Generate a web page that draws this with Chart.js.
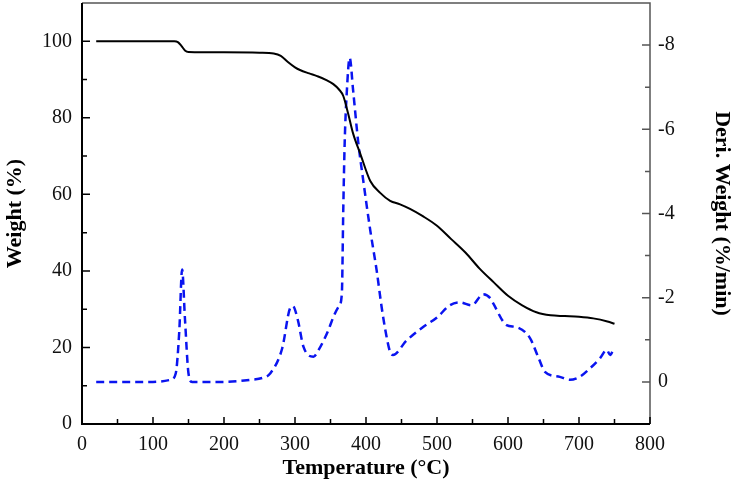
<!DOCTYPE html>
<html>
<head>
<meta charset="utf-8">
<script src="https://cdn.jsdelivr.net/npm/chart.js@4/dist/chart.umd.min.js"></script>
<style>
  html, body { margin: 0; padding: 0; background: #fff; }
  #wrap { width: 735px; height: 485px; }
</style>
</head>
<body>
<div id="wrap"><canvas id="tga"></canvas></div>
<script>
// TG curve (weight %, left axis)
const tgTemp = [20, 130, 135, 140, 145, 150, 200, 250, 270, 280, 290, 300, 307, 320, 331, 345, 354, 362, 368, 375, 382, 392, 406, 420, 434, 448, 462, 480, 500, 520, 540, 560, 580, 600, 620, 640, 660, 680, 700, 720, 740, 750];
const tgWeight = [100, 100, 99.8, 98.8, 97.6, 97.2, 97.1, 97.0, 96.8, 96.2, 94.6, 93.2, 92.5, 91.6, 90.9, 89.8, 88.8, 87.4, 85.7, 81, 75.8, 70.6, 63.5, 60.4, 58.3, 57.4, 56.2, 54.3, 51.8, 48.3, 44.8, 40.6, 37, 33.5, 31, 29.2, 28.4, 28.2, 28.0, 27.6, 26.8, 26.2];

// DTG curve (%/min, right axis, reversed)
const dtgTemp = [20, 60, 100, 125, 132, 137, 141, 145, 150, 155, 200, 237, 255, 265, 282, 293, 297, 304, 312, 326, 333, 347, 354, 362, 366, 368, 370, 373, 377, 382, 389, 396, 406, 415, 422, 428, 434, 438, 457, 480, 500, 518, 532, 549, 565, 575, 579, 598, 612, 631, 643, 652, 673, 687, 701, 716, 730, 739, 744, 748];
const dtgRate = [0, 0, 0, -0.05, -0.2, -1.2, -2.67, -1.5, -0.2, 0, 0, -0.05, -0.1, -0.2, -0.8, -1.75, -1.8, -1.47, -0.83, -0.6, -0.75, -1.23, -1.54, -1.8, -2.1, -4.1, -5.7, -6.9, -7.7, -6.9, -5.7, -4.8, -3.6, -2.65, -1.78, -1.16, -0.71, -0.64, -0.98, -1.3, -1.53, -1.82, -1.89, -1.82, -2.08, -1.99, -1.87, -1.35, -1.3, -1.04, -0.57, -0.24, -0.12, -0.05, -0.12, -0.33, -0.57, -0.76, -0.64, -0.76];

const serif = '"Liberation Serif", "Times New Roman", serif';

// frame + inward tick marks
const frameTicks = {
    id: 'frameTicks',
    afterDraw(chart) {
        const { ctx, chartArea: a, scales } = chart;
        ctx.save();
        ctx.strokeStyle = '#555';
        ctx.lineWidth = 1.5;
        ctx.beginPath();
        ctx.moveTo(a.left, a.top);
        ctx.lineTo(a.right, a.top);
        ctx.lineTo(a.right, a.bottom);
        ctx.stroke();
        ctx.strokeStyle = '#000';
        ctx.lineWidth = 2;
        ctx.beginPath();
        ctx.moveTo(a.left, a.top);
        ctx.lineTo(a.left, a.bottom);
        ctx.lineTo(a.right, a.bottom);
        ctx.stroke();

        ctx.lineWidth = 1.5;
        ctx.beginPath();
        for (let v = 0; v <= 800; v += 50) {
            const px = scales.x.getPixelForValue(v);
            const len = v % 100 === 0 ? 7 : 5;
            ctx.moveTo(px, a.bottom);
            ctx.lineTo(px, a.bottom - len);
        }
        for (let v = 0; v <= 100; v += 10) {
            const py = scales.y.getPixelForValue(v);
            const len = v % 20 === 0 ? 8 : 5;
            ctx.moveTo(a.left, py);
            ctx.lineTo(a.left + len, py);
        }
        ctx.stroke();
        ctx.strokeStyle = '#555';
        ctx.beginPath();
        for (let v = -8; v <= 0; v += 1) {
            const py = scales.y2.getPixelForValue(v);
            const len = v % 2 === 0 ? 8 : 5;
            ctx.moveTo(a.right, py);
            ctx.lineTo(a.right - len, py);
        }
        ctx.stroke();
        ctx.restore();
    }
};

const fixWidth = (w) => (s) => {
    s.width = w;
    s.paddingTop = 0;
    s.paddingBottom = 0;
};

const tgData = tgTemp.map((t, i) => ({ x: t, y: tgWeight[i] }));
const dtgData = dtgTemp.map((t, i) => ({ x: t, y: dtgRate[i] }));

new Chart(document.getElementById('tga'), {
    type: 'line',
    data: {
        datasets: [{
            label: 'TG',
            data: tgData,
            yAxisID: 'y',
            borderColor: '#000',
            borderWidth: 2,
            pointRadius: 0,
            cubicInterpolationMode: 'monotone'
        }, {
            label: 'DTG',
            data: dtgData,
            yAxisID: 'y2',
            borderColor: '#0a14f0',
            borderWidth: 2.5,
            borderDash: [8, 5],
            pointRadius: 0,
            cubicInterpolationMode: 'monotone'
        }]
    },
    options: {
        responsive: true,
        maintainAspectRatio: false,
        animation: false,
        layout: { padding: { top: 3, left: 0, right: 0, bottom: 0 } },
        plugins: { legend: { display: false }, tooltip: { enabled: false } },
        scales: {
            x: {
                type: 'linear',
                min: 0,
                max: 800,
                grid: { display: false, drawTicks: false },
                border: { display: false },
                ticks: {
                    stepSize: 100,
                    padding: 9,
                    color: '#111',
                    font: { family: serif, size: 20 },
                    maxRotation: 0,
                    callback: (v) => String(v)
                },
                title: {
                    display: true,
                    text: 'Temperature (°C)',
                    color: '#000',
                    font: { family: serif, size: 22, weight: 'bold' },
                    padding: { top: 0, bottom: 3 }
                },
                afterFit: (s) => { s.height = 61; }
            },
            y: {
                position: 'left',
                min: 0,
                max: 110,
                grid: { display: false, drawTicks: false },
                border: { display: false },
                ticks: {
                    stepSize: 10,
                    padding: 10,
                    color: '#111',
                    font: { family: serif, size: 20 },
                    callback: (v) => (v % 20 === 0 && v <= 100 ? String(v) : '')
                },
                title: {
                    display: true,
                    text: 'Weight (%)',
                    color: '#000',
                    font: { family: serif, size: 22, weight: 'bold' },
                    padding: { top: 2, bottom: 0 }
                },
                afterFit: fixWidth(82)
            },
            y2: {
                position: 'right',
                reverse: true,
                min: -9,
                max: 1,
                grid: { display: false, drawTicks: false },
                border: { display: false },
                ticks: {
                    stepSize: 1,
                    padding: 8,
                    color: '#111',
                    font: { family: serif, size: 20 },
                    callback: (v) => (v % 2 === 0 && v <= 0 && v >= -8 ? String(v) : '')
                },
                title: {
                    display: true,
                    text: 'Deri. Weight (%/min)',
                    color: '#000',
                    font: { family: serif, size: 22, weight: 'bold' },
                    padding: { top: 0, bottom: 5 }
                },
                afterFit: fixWidth(85)
            }
        }
    },
    plugins: [frameTicks]
});
</script>
</body>
</html>
